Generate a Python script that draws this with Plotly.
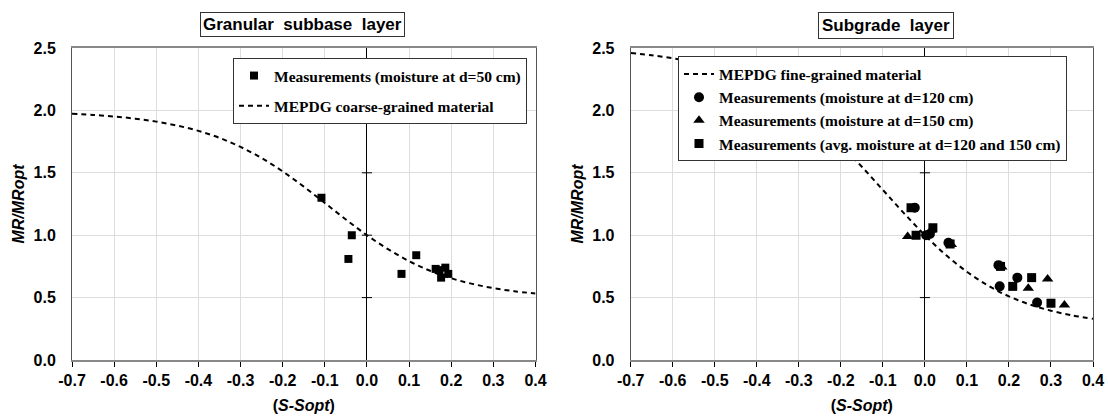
import plotly.graph_objects as go

# ---------------- data ----------------
x_curve = [-0.70, -0.65, -0.60, -0.55, -0.50, -0.45, -0.40, -0.35, -0.30, -0.25, -0.20, -0.15,
           -0.10, -0.05, 0.00, 0.05, 0.10, 0.15, 0.20, 0.25, 0.30, 0.35, 0.40]
coarse_y = [1.973, 1.964, 1.951, 1.934, 1.910, 1.878, 1.836, 1.780, 1.707, 1.618, 1.511, 1.389,
            1.258, 1.126, 1.000, 0.888, 0.792, 0.715, 0.655, 0.610, 0.576, 0.551, 0.533]
fine_y = [2.460, 2.442, 2.418, 2.385, 2.342, 2.287, 2.215, 2.125, 2.013, 1.878, 1.722, 1.548,
          1.363, 1.177, 1.000, 0.841, 0.707, 0.597, 0.510, 0.444, 0.395, 0.358, 0.330]

gsb_x = [-0.108, -0.036, -0.044, 0.082, 0.117, 0.163, 0.172, 0.186, 0.176, 0.193]
gsb_y = [1.30, 1.00, 0.81, 0.69, 0.84, 0.73, 0.72, 0.74, 0.66, 0.69]

sg120_x = [-0.024, 0.003, 0.012, 0.056, 0.175, 0.178, 0.220, 0.267]
sg120_y = [1.22, 1.00, 1.01, 0.94, 0.76, 0.59, 0.66, 0.46]
sg150_x = [-0.041, -0.030, 0.015, 0.063, 0.183, 0.246, 0.292, 0.332]
sg150_y = [0.99, 1.21, 1.04, 0.925, 0.745, 0.575, 0.65, 0.44]
sgavg_x = [-0.033, -0.021, 0.019, 0.060, 0.180, 0.209, 0.254, 0.300]
sgavg_y = [1.22, 1.00, 1.06, 0.93, 0.75, 0.59, 0.66, 0.455]

x_ticks = [-0.7, -0.6, -0.5, -0.4, -0.3, -0.2, -0.1, 0.0, 0.1, 0.2, 0.3, 0.4]
y_ticks = [0.0, 0.5, 1.0, 1.5, 2.0, 2.5]
zero_cross_ticks = [0.5, 1.0, 1.5, 2.0]

titles = ["Granular  subbase  layer", "Subgrade  layer"]

# ---------------- figure ----------------
W, H = 1108, 418
ML, MR, MT, MB = 72, 15, 47.5, 58
fig = go.Figure()

dash_line = dict(color="black", width=2, dash="5px,4px")

# left subplot
fig.add_trace(go.Scatter(x=gsb_x, y=gsb_y, mode="markers", xaxis="x", yaxis="y",
                         marker=dict(symbol="square", size=8, color="black"),
                         name="Measurements (moisture at d=50 cm)", legend="legend",
                         legendgroup="a"))
fig.add_trace(go.Scatter(x=x_curve, y=coarse_y, mode="lines", xaxis="x", yaxis="y",
                         line=dict(shape="spline", **dash_line),
                         name="MEPDG coarse-grained material", legend="legend",
                         legendgroup="b"))

# right subplot
fig.add_trace(go.Scatter(x=x_curve, y=fine_y, mode="lines", xaxis="x2", yaxis="y2",
                         line=dict(shape="spline", **dash_line),
                         name="MEPDG fine-grained material", legend="legend2"))
fig.add_trace(go.Scatter(x=sg120_x, y=sg120_y, mode="markers", xaxis="x2", yaxis="y2",
                         marker=dict(symbol="circle", size=10, color="black"),
                         name="Measurements (moisture at d=120 cm)", legend="legend2"))
fig.add_trace(go.Scatter(x=sg150_x, y=sg150_y, mode="markers", xaxis="x2", yaxis="y2",
                         marker=dict(symbol="triangle-up", size=10, color="black"),
                         name="Measurements (moisture at d=150 cm)", legend="legend2"))
fig.add_trace(go.Scatter(x=sgavg_x, y=sgavg_y, mode="markers", xaxis="x2", yaxis="y2",
                         marker=dict(symbol="square", size=9, color="black"),
                         name="Measurements (avg. moisture at d=120 and 150 cm)", legend="legend2"))

pw = W - ML - MR
ph = H - MT - MB
def px(xpix):
    return (xpix - ML) / pw
def py(ypix):
    return (H - MB - ypix) / ph

tickfont = dict(family="Liberation Sans, Arial", size=16, color="black", weight="bold")
titlefont = dict(family="Liberation Sans, Arial", size=16, color="black", weight="bold")

def xaxis_cfg(domain, anchor):
    return dict(domain=domain, anchor=anchor, range=[-0.7, 0.4], tickvals=x_ticks,
                ticktext=[f"{v:.1f}" for v in x_ticks], tickfont=tickfont,
                showgrid=True, gridcolor="#dddddd", gridwidth=1,
                zeroline=True, zerolinecolor="black", zerolinewidth=1,
                showline=True, linecolor="#888888", linewidth=2, mirror=True,
                ticks="outside", ticklen=5, tickcolor="black", tickwidth=1,
                automargin=False,
                title=dict(text="(<i>S-Sopt</i>)", font=titlefont, standoff=12))

def yaxis_cfg(anchor):
    return dict(domain=[0, 1], anchor=anchor, range=[0, 2.5], tickvals=y_ticks,
                ticktext=[f"{v:.1f}" for v in y_ticks], tickfont=tickfont,
                showgrid=True, gridcolor="#dddddd", gridwidth=1, zeroline=False,
                showline=True, linecolor="#555555", linewidth=1, mirror=True,
                ticks="outside", ticklen=12, tickcolor="rgba(0,0,0,0)",
                automargin=False,
                title=dict(text="<i>MR/MRopt</i>", font=titlefont, standoff=4))

xd1 = [0, px(535.5)]
xd2 = [px(630.7), 1]

legend_font = dict(family="Liberation Serif, Times New Roman", size=15.5, color="black", weight="bold")

fig.update_layout(
    width=W, height=H,
    margin=dict(l=ML, r=MR, t=MT, b=MB, autoexpand=False),
    paper_bgcolor="white", plot_bgcolor="white",
    xaxis=xaxis_cfg(xd1, "y"),
    yaxis=yaxis_cfg("x"),
    xaxis2=xaxis_cfg(xd2, "y2"),
    yaxis2=yaxis_cfg("x2"),
    legend=dict(x=px(527), y=py(57.5), xanchor="right", yanchor="top",
                bgcolor="white", bordercolor="#333333", borderwidth=1,
                font=legend_font, traceorder="grouped", tracegroupgap=7,
                itemsizing="trace"),
    legend2=dict(x=px(678), y=py(56), xanchor="left", yanchor="top",
                 bgcolor="white", bordercolor="#333333", borderwidth=1,
                 font=legend_font, traceorder="normal"),
    showlegend=True,
    annotations=[
        dict(text=titles[0], x=px(302), y=py(24), xref="paper", yref="paper",
             showarrow=False, xanchor="center", yanchor="middle",
             font=dict(family="Liberation Sans, Arial", size=17, color="black", weight="bold"),
             bordercolor="#333333", borderwidth=1, borderpad=2, bgcolor="white"),
        dict(text=titles[1], x=px(885.5), y=py(25), xref="paper", yref="paper",
             showarrow=False, xanchor="center", yanchor="middle",
             font=dict(family="Liberation Sans, Arial", size=17, color="black", weight="bold"),
             bordercolor="#333333", borderwidth=1, borderpad=3, bgcolor="white"),
    ],
)

shapes = []
for xr, yr in [("x", "y"), ("x2", "y2")]:
    for v in zero_cross_ticks:
        shapes.append(dict(type="line", xref=xr, yref=yr, x0=-0.012, x1=0.012, y0=v, y1=v,
                           line=dict(color="black", width=1), layer="above"))
fig.update_layout(shapes=shapes)

fig.write_html("out.html")
